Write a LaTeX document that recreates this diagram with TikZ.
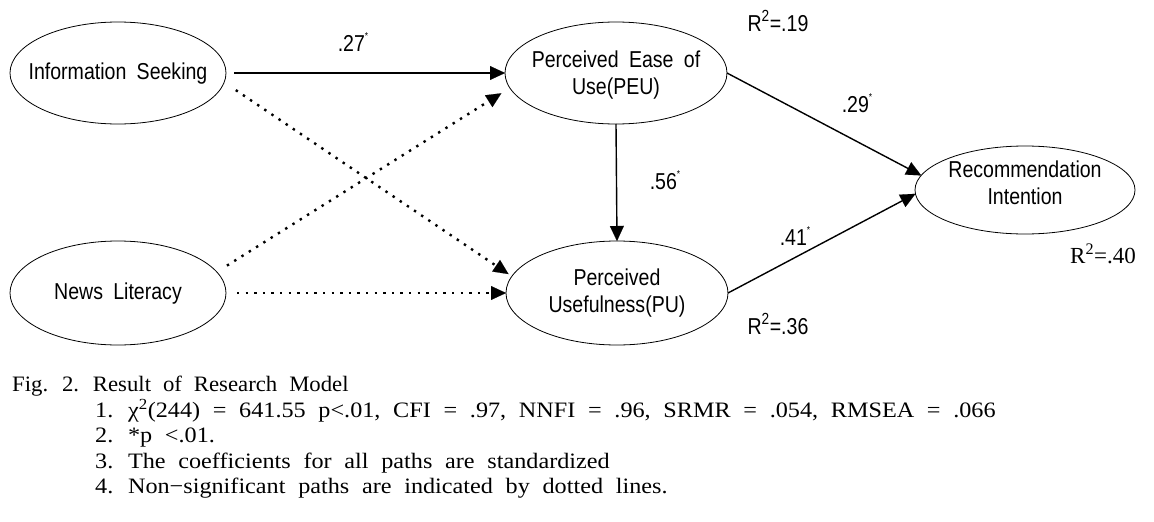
\documentclass[tikz,border=0pt]{standalone}
\usepackage{fontspec}
\usetikzlibrary{arrows.meta,shapes.geometric}
\setmainfont{Liberation Serif}
\newfontfamily\dfont[FakeStretch=0.85,WordSpace=1.9]{Liberation Sans}
\newfontfamily\cfont[FakeStretch=1.1,WordSpace=2.1]{Liberation Serif}
\newcommand\intxt[2]{\makebox[0pt]{\raisebox{#1}[0pt][0pt]{\begin{tabular}{@{}c@{}}#2\end{tabular}}}}
\newcommand\sigst{\raisebox{0.5em}{\fontsize{10}{10}\selectfont *}}
\begin{document}
\begin{tikzpicture}[x=1pt,y=-1pt,
  lat/.style={draw, ellipse, line width=0.8pt, inner sep=0pt, outer sep=0pt,
    font=\dfont\fontsize{23}{27}\selectfont},
  sig/.style={line width=1.4pt, -{Triangle[length=15pt,width=14pt,line width=0.1pt]}},
  nsig/.style={line width=2.4pt, dash pattern=on 2.4pt off 6.2pt,
    -{Triangle[length=15pt,width=14pt,line width=0.1pt]}},
  lab/.style={inner sep=0pt, font=\dfont\fontsize{23}{27}\selectfont},
  capl/.style={anchor=base west, inner sep=0pt, font=\cfont\fontsize{22}{25}\selectfont}]
\useasboundingbox (0,0) rectangle (1154,522);
% latent variables
\node[lat, minimum width=216pt, minimum height=102pt] (is) at (118,73)
  {\intxt{-7pt}{Information Seeking}};
\node[lat, minimum width=216pt, minimum height=104pt] (nl) at (118,293)
  {\intxt{-7pt}{News Literacy}};
\node[lat, minimum width=222pt, minimum height=102pt] (peu) at (616,73)
  {\intxt{-9pt}{Perceived Ease of\\Use(PEU)}};
\node[lat, minimum width=222pt, minimum height=104pt] (pu) at (617,293)
  {\intxt{-7pt}{Perceived\\Usefulness(PU)}};
\node[lat, minimum width=220pt, minimum height=88pt] (ri) at (1025,190)
  {\intxt{-2pt}{Recommendation\\Intention}};
% paths
\draw[sig, shorten <=8pt] (is.east) -- (peu.west);
\draw[nsig, shorten <=14pt, shorten >=4pt] (is.-5) -- (pu.171);
\draw[nsig, shorten <=12pt, shorten >=10pt] (nl.12) -- (peu.188);
\draw[nsig, shorten <=11pt] (nl.east) -- (pu.west);
\draw[sig] (peu.south) -- (pu.north);
\draw[sig] (peu.east) -- (ri.172);
\draw[sig] (pu.east) -- (ri.182);
% coefficients
\node[lab] (c1) at (353,42) {.27\sigst};
\node[lab] (c2) at (857,103) {.29\sigst};
\node[lab] (c3) at (665,180) {.56\sigst};
\node[lab] (c4) at (795,236) {.41\sigst};
\node[lab] (r1) at (778,21) {R\textsuperscript{2}=.19};
\node[lab] (r2) at (778,324) {R\textsuperscript{2}=.36};
\node[inner sep=0pt, font=\fontsize{23}{26}\selectfont] (r3) at (1103,254) {R\textsuperscript{2}=.40};
% caption
\node[capl] (t0) at (12,391) {\scalebox{0.94}[1]{Fig. 2. Result of Research Model}};
\node[capl] (t1) at (95,417) {1. χ\textsuperscript{2}(244) = 641.55 p<.01, CFI = .97, NNFI = .96, SRMR = .054, RMSEA = .066};
\node[capl] (t2) at (95,442) {2. *p <.01.};
\node[capl] (t3) at (95,468) {3. The coefficients for all paths are standardized};
\node[capl] (t4) at (95,493) {4. Non−significant paths are indicated by dotted lines.};
\end{tikzpicture}
\end{document}
